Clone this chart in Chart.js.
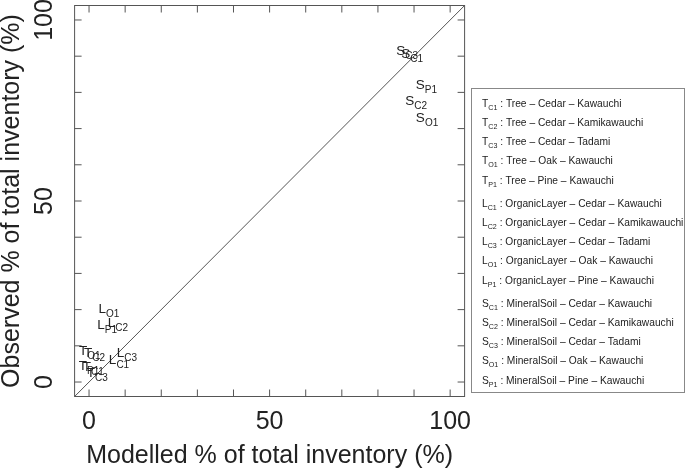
<!DOCTYPE html>
<html>
<head>
<meta charset="utf-8">
<script src="https://cdn.jsdelivr.net/npm/chart.js@4.4.0/dist/chart.umd.min.js"></script>
<style>
  html, body { margin: 0; padding: 0; background: #fff; }
  #wrap { width: 685px; height: 472px; }
</style>
</head>
<body>
<div id="wrap"><canvas id="chart" width="685" height="472"></canvas></div>
<script>
// one label per compartment / site
const compartment = ['T', 'T', 'T', 'T', 'T', 'L', 'L', 'L', 'L', 'L', 'S', 'S', 'S', 'S', 'S'];
const site = ['C1', 'C2', 'C3', 'O1', 'P1', 'C1', 'C2', 'C3', 'O1', 'P1', 'C1', 'C2', 'C3', 'O1', 'P1'];
const modelled = [1.2, 1.5, 2.3, 0.2, 0.0, 8.3, 8.0, 10.5, 5.5, 5.0, 89.5, 90.6, 88.1, 93.6, 93.4];
const observed = [3.8, 7.7, 2.2, 8.3, 4.1, 5.8, 16.0, 7.7, 19.9, 15.5, 90.3, 77.3, 91.2, 72.7, 81.8];
const legendNames = [
  'Tree \u2013 Cedar \u2013 Kawauchi',
  'Tree \u2013 Cedar \u2013 Kamikawauchi',
  'Tree \u2013 Cedar \u2013 Tadami',
  'Tree \u2013 Oak \u2013 Kawauchi',
  'Tree \u2013 Pine \u2013 Kawauchi',
  'OrganicLayer \u2013 Cedar \u2013 Kawauchi',
  'OrganicLayer \u2013 Cedar \u2013 Kamikawauchi',
  'OrganicLayer \u2013 Cedar \u2013 Tadami',
  'OrganicLayer \u2013 Oak \u2013 Kawauchi',
  'OrganicLayer \u2013 Pine \u2013 Kawauchi',
  'MineralSoil \u2013 Cedar \u2013 Kawauchi',
  'MineralSoil \u2013 Cedar \u2013 Kamikawauchi',
  'MineralSoil \u2013 Cedar \u2013 Tadami',
  'MineralSoil \u2013 Oak \u2013 Kawauchi',
  'MineralSoil \u2013 Pine \u2013 Kawauchi'
];
const axisTicks = [0, 50, 100];
const minorTicks = [0, 10, 20, 30, 40, 50, 60, 70, 80, 90, 100];
const oneToOne = [-4, 104];

const FONT = '"Liberation Sans", Arial, Helvetica, sans-serif';
const ink = '#222';
Chart.defaults.font.family = FONT;
Chart.defaults.color = ink;

// letter with a subscript; returns the width drawn
function subText(ctx, x, baseline, main, sub, size, subSize, drop) {
  ctx.font = size + 'px ' + FONT;
  ctx.textAlign = 'left';
  ctx.textBaseline = 'alphabetic';
  ctx.fillText(main, x, baseline);
  const w1 = ctx.measureText(main).width;
  ctx.font = subSize + 'px ' + FONT;
  ctx.fillText(sub, x + w1, baseline + drop);
  return w1 + ctx.measureText(sub).width;
}

function subWidth(ctx, main, sub, size, subSize) {
  ctx.font = size + 'px ' + FONT;
  const w1 = ctx.measureText(main).width;
  ctx.font = subSize + 'px ' + FONT;
  return w1 + ctx.measureText(sub).width;
}

const framePlugin = {
  id: 'frame',
  afterDraw(chart) {
    const ctx = chart.ctx;
    const {left, right, top, bottom} = chart.chartArea;
    const xs = chart.scales.x, ys = chart.scales.y;
    ctx.save();

    // box and inward ticks on all sides
    ctx.strokeStyle = '#555';
    ctx.lineWidth = 1;
    ctx.strokeRect(left, top, right - left, bottom - top);
    ctx.beginPath();
    minorTicks.forEach(v => {
      const px = xs.getPixelForValue(v);
      ctx.moveTo(px, bottom); ctx.lineTo(px, bottom - 7);
      ctx.moveTo(px, top); ctx.lineTo(px, top + 7);
      const py = ys.getPixelForValue(v);
      ctx.moveTo(left, py); ctx.lineTo(left + 7, py);
      ctx.moveTo(right, py); ctx.lineTo(right - 7, py);
    });
    ctx.stroke();

    // rotated y tick labels
    ctx.fillStyle = ink;
    ctx.font = '25px ' + FONT;
    ctx.textAlign = 'center';
    ctx.textBaseline = 'middle';
    axisTicks.forEach(v => {
      ctx.save();
      ctx.translate(45, ys.getPixelForValue(v));
      ctx.rotate(-Math.PI / 2);
      ctx.fillText(String(v), 0, 0);
      ctx.restore();
    });

    // point labels
    const meta = chart.getDatasetMeta(1);
    meta.data.forEach((pt, i) => {
      const size = 13.5, subSize = 10, drop = 4;
      const cap = size * 0.716;
      const w = subWidth(ctx, compartment[i], site[i], size, subSize);
      const base = pt.y + cap / 2 - drop / 2;
      subText(ctx, pt.x - w / 2, base, compartment[i], site[i], size, subSize, drop);
    });

    // legend box (text slightly condensed like the original)
    ctx.strokeStyle = '#888';
    ctx.strokeRect(471.5, 88.5, 213, 304);
    legendNames.forEach((name, i) => {
      const g = Math.floor(i / 5), k = i % 5;
      const yMid = 103 + g * 100 + k * 19.1;
      const size = 11.5;
      const base = yMid + size * 0.716 / 2;
      ctx.save();
      ctx.translate(482, 0);
      ctx.scale(0.89, 1);
      const w = subText(ctx, 0, base, compartment[i], site[i], size, 8, 3);
      ctx.font = size + 'px ' + FONT;
      ctx.fillText(' : ' + name, w, base);
      ctx.restore();
    });
    ctx.restore();
  }
};

new Chart(document.getElementById('chart'), {
  data: {
    datasets: [
      {
        type: 'line',
        data: oneToOne.map(v => ({x: v, y: v})),
        borderColor: '#555',
        borderWidth: 1,
        pointRadius: 0,
        fill: false
      },
      {
        type: 'scatter',
        data: modelled.map((m, i) => ({x: m, y: observed[i]})),
        pointRadius: 0,
        pointHoverRadius: 0
      }
    ]
  },
  options: {
    responsive: false,
    animation: false,
    events: [],
    layout: { padding: { left: 0, top: 5.5, right: 220.4, bottom: 0 } },
    plugins: { legend: { display: false }, tooltip: { enabled: false } },
    scales: {
      x: {
        type: 'linear',
        min: -4,
        max: 104,
        grid: { display: false, drawTicks: false },
        border: { display: false },
        afterBuildTicks: axis => { axis.ticks = axisTicks.map(v => ({value: v})); },
        ticks: { padding: 10.8, font: { size: 25 }, color: ink, maxRotation: 0, autoSkip: false },
        title: {
          display: true,
          text: 'Modelled % of total inventory (%)',
          font: { size: 25, lineHeight: 0.6 },
          color: ink,
          padding: { top: 0.9, bottom: 8 }
        }
      },
      y: {
        type: 'linear',
        min: -4,
        max: 104,
        grid: { display: false, drawTicks: false },
        border: { display: false },
        afterBuildTicks: axis => { axis.ticks = axisTicks.map(v => ({value: v})); },
        ticks: { display: false },
        title: {
          display: true,
          text: 'Observed % of total inventory (%)',
          font: { size: 25, lineHeight: 0.9 },
          color: ink,
          padding: { top: 0.75, bottom: 51.35 }
        }
      }
    }
  },
  plugins: [framePlugin]
});
</script>
</body>
</html>
